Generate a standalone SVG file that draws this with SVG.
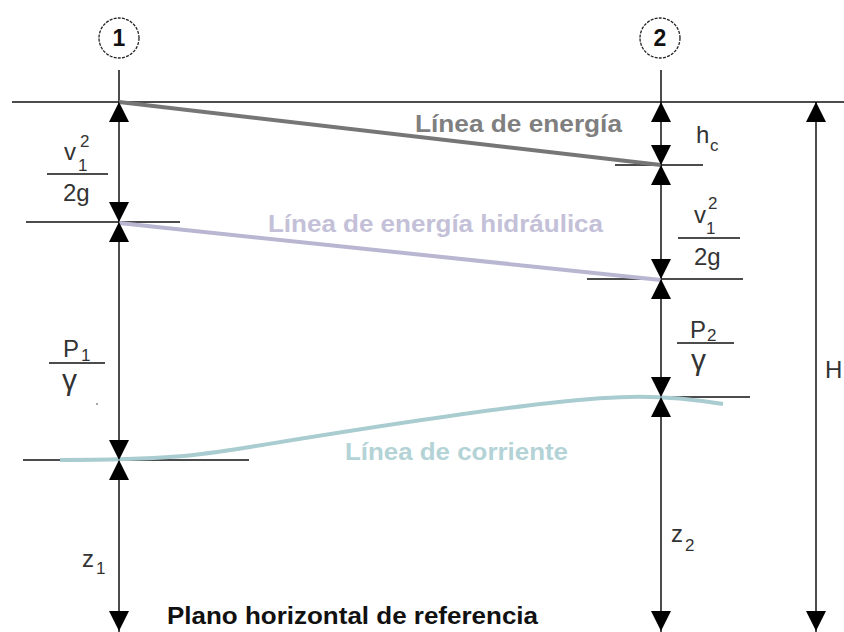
<svg xmlns="http://www.w3.org/2000/svg" width="844" height="632" viewBox="0 0 844 632">
<style>
.ln{stroke:#111;stroke-width:1.5;fill:none}
.ah{fill:#000}
.m{font-family:"Liberation Sans",Arial,sans-serif;font-size:24px;fill:#333}
.g{font-family:"Liberation Sans",Arial,sans-serif;font-size:30px;fill:#333}
.s{font-family:"Liberation Sans",Arial,sans-serif;font-size:17px;fill:#333}
.lab{font-family:"Liberation Sans",Arial,sans-serif;font-size:24px;font-weight:bold}
.num{font-family:"Liberation Sans",Arial,sans-serif;font-size:23px;font-weight:bold;fill:#111}
.circ{fill:none;stroke:#222;stroke-width:1.3;stroke-dasharray:3 1.2}
</style>
<defs>
<polygon id="up" points="0,0 10,20 -10,20" class="ah"/>
<polygon id="dn" points="0,0 10,-20 -10,-20" class="ah"/>
</defs>
<rect width="844" height="632" fill="#fff"/>

<g id="connectors">
<line class="ln" x1="12" y1="102" x2="844" y2="102"/>
<line class="ln" x1="119" y1="70" x2="119" y2="632"/>
<line class="ln" x1="661" y1="70" x2="661" y2="632"/>
<line class="ln" x1="816" y1="102" x2="816" y2="632"/>
<line class="ln" x1="26" y1="222" x2="180" y2="222"/>
<line class="ln" x1="23" y1="460" x2="249" y2="460"/>
<line class="ln" x1="615" y1="165" x2="703" y2="165"/>
<line class="ln" x1="587" y1="279" x2="743" y2="279"/>
<line class="ln" x1="608" y1="397" x2="750" y2="397"/>
<line x1="119" y1="102" x2="661" y2="165" stroke="#767676" stroke-width="4"/>
<line x1="119" y1="223" x2="661" y2="280" stroke="#b9b6d2" stroke-width="4"/>
<path d="M60,460 C170,460 200,455 250,447 C330,434 450,414 550,403 C620,395 660,394 723,404" fill="none" stroke="#a9ccd0" stroke-width="4"/>
<use href="#up" x="119" y="102"/>
<use href="#dn" x="119" y="222"/>
<use href="#up" x="119" y="222"/>
<use href="#dn" x="119" y="460"/>
<use href="#up" x="119" y="460"/>
<use href="#dn" x="119" y="631"/>
<use href="#up" x="661" y="102"/>
<use href="#dn" x="661" y="165"/>
<use href="#up" x="661" y="165"/>
<use href="#dn" x="661" y="279"/>
<use href="#up" x="661" y="279"/>
<use href="#dn" x="661" y="397"/>
<use href="#up" x="661" y="397"/>
<use href="#dn" x="661" y="631"/>
<use href="#up" x="816" y="102"/>
<use href="#dn" x="816" y="631"/>
</g>

<g id="section1">
<circle class="circ" cx="119" cy="38" r="20"/>
<text class="num" x="119" y="46" text-anchor="middle">1</text>
</g>
<g id="section2">
<circle class="circ" cx="660" cy="38" r="20"/>
<text class="num" x="660" y="46" text-anchor="middle">2</text>
</g>

<g id="label-energia">
<text class="lab" x="415" y="132" fill="#7f7f7f" textLength="207" lengthAdjust="spacingAndGlyphs">Línea de energía</text>
</g>
<g id="label-hidraulica">
<text class="lab" x="268" y="232" fill="#c3c0d8" textLength="335" lengthAdjust="spacingAndGlyphs">Línea de energía hidráulica</text>
</g>
<g id="label-corriente">
<text class="lab" x="345" y="460" fill="#b3d3d6" textLength="223" lengthAdjust="spacingAndGlyphs">Línea de corriente</text>
</g>
<g id="label-plano">
<text class="lab" x="167" y="624" fill="#111" textLength="371" lengthAdjust="spacingAndGlyphs">Plano horizontal de referencia</text>
</g>

<g id="v1-2g-left">
<text class="m" x="64" y="160">v</text>
<text class="s" x="78" y="171">1</text>
<text class="s" x="80" y="147">2</text>
<line class="ln" x1="47" y1="174" x2="108" y2="174"/>
<text class="m" x="63" y="201">2g</text>
</g>
<g id="p1-gamma">
<text class="m" x="63" y="357">P</text>
<text class="s" x="81" y="361">1</text>
<line class="ln" x1="49" y1="363" x2="105" y2="363"/>
<text class="g" x="62" y="390">γ</text>
<circle cx="97" cy="404" r="1" fill="#888"/>
</g>
<g id="z1">
<text class="m" x="82" y="567">z</text>
<text class="s" x="96" y="574">1</text>
</g>

<g id="hc">
<text class="m" x="696" y="143">h</text>
<text class="s" x="710" y="151">c</text>
</g>
<g id="v1-2g-right">
<text class="m" x="694" y="223">v</text>
<text class="s" x="706" y="234">1</text>
<text class="s" x="708" y="209">2</text>
<line class="ln" x1="678" y1="238" x2="740" y2="238"/>
<text class="m" x="694" y="265">2g</text>
</g>
<g id="p2-gamma">
<text class="m" x="690" y="338">P</text>
<text class="s" x="707" y="341">2</text>
<line class="ln" x1="677" y1="343" x2="734" y2="343"/>
<text class="g" x="691" y="370">γ</text>
</g>
<g id="z2">
<text class="m" x="671" y="542">z</text>
<text class="s" x="685" y="551">2</text>
</g>
<g id="H">
<text class="m" x="825" y="378" font-size="26">H</text>
</g>
</svg>
